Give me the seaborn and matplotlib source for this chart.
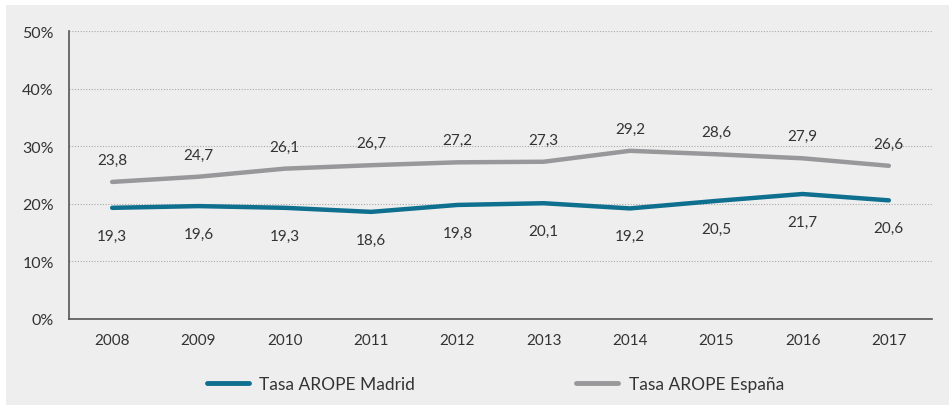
import matplotlib
import matplotlib.pyplot as plt
import pandas as pd
import seaborn as sns
from matplotlib.patches import Rectangle

matplotlib.use('Agg')

years = ['2008', '2009', '2010', '2011', '2012', '2013', '2014', '2015', '2016', '2017']
madrid = [19.3, 19.6, 19.3, 18.6, 19.8, 20.1, 19.2, 20.5, 21.7, 20.6]
espana = [23.8, 24.7, 26.1, 26.7, 27.2, 27.3, 29.2, 28.6, 27.9, 26.6]
series_names = ['Tasa AROPE Madrid', 'Tasa AROPE España']
colors = ['#0f6f8f', '#98989b']
y_ticks = [0, 10, 20, 30, 40, 50]

sns.set_style('white')
plt.rcParams['font.family'] = ['Lato', 'DejaVu Sans']

df = pd.concat([
    pd.DataFrame({'year': years, 'value': madrid, 'serie': series_names[0]}),
    pd.DataFrame({'year': years, 'value': espana, 'serie': series_names[1]}),
])

bg = '#eeeeee'
fig = plt.figure(figsize=(9.49, 4.06), dpi=100)
fig.patch.set_facecolor('white')
fig.patches.append(Rectangle((6 / 949, 0), 1, 1 - 6 / 406, transform=fig.transFigure,
                             facecolor=bg, edgecolor='none', zorder=-10))
ax = fig.add_axes([69 / 949, 86 / 406, 863 / 949, 288 / 406])
ax.set_facecolor(bg)

sns.lineplot(data=df, x='year', y='value', hue='serie', palette=colors,
             linewidth=3.2, sort=False, ax=ax, legend=True)

# labels
for i, v in enumerate(espana):
    ax.annotate(f'{v:.1f}'.replace('.', ','), (i, v), xytext=(0, 16), textcoords='offset points',
                ha='center', va='center', fontsize=11, color='#333333')
for i, v in enumerate(madrid):
    ax.annotate(f'{v:.1f}'.replace('.', ','), (i, v), xytext=(0, -20), textcoords='offset points',
                ha='center', va='center', fontsize=11, color='#333333')

ax.set_xlim(-0.5, len(years) - 0.5)
ax.set_ylim(0, 50)
ax.set_yticks(y_ticks)
ax.set_yticklabels([f'{t}%' for t in y_ticks])
ax.set_xticks(range(len(years)))
ax.set_xticklabels(years)
ax.set_xticks([i - 0.5 for i in range(len(years) + 1)], minor=True)
ax.tick_params(axis='x', which='major', length=0, pad=10, labelsize=11, colors='#333333')
ax.tick_params(axis='x', which='minor', length=7, width=1.2, color='#555555', direction='out')
ax.tick_params(axis='y', length=6, width=1.2, color='#555555', direction='out', labelsize=11.5,
               labelcolor='#333333', pad=5)
ax.set_xlabel('')
ax.set_ylabel('')
for t in y_ticks[1:]:
    ax.axhline(t, color='#aaaaaa', linestyle=(0, (1, 1.5)), linewidth=0.8, zorder=0)

sns.despine(ax=ax)
for s in ['left', 'bottom']:
    ax.spines[s].set_color('#555555')
    ax.spines[s].set_linewidth(1.2)

handles, labels = ax.get_legend_handles_labels()
ax.get_legend().remove()
leg = fig.legend(handles, labels, loc='center', bbox_to_anchor=(0.522, 21 / 406), ncol=2,
                 frameon=False, fontsize=12.5, handlelength=2.4, columnspacing=9.3, handletextpad=0.6)
for h in leg.get_lines():
    h.set_linewidth(3.5)
for t in leg.get_texts():
    t.set_color('#333333')

plt.savefig('out.png', dpi=100, facecolor=fig.get_facecolor())
plt.close()
